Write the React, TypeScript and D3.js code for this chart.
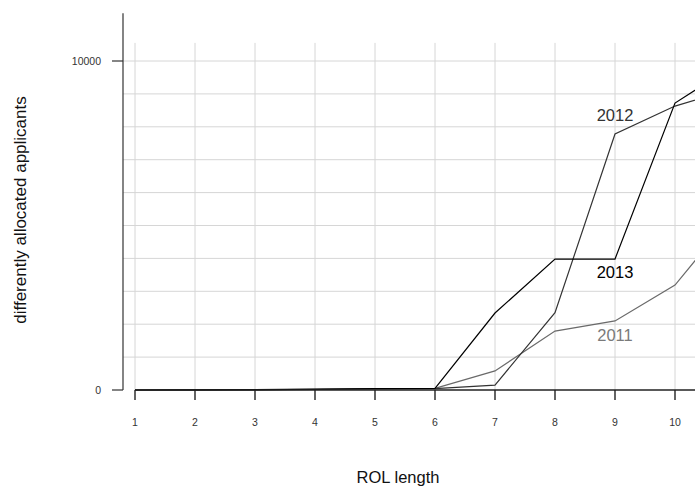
import React, { useEffect, useRef } from "react";
import * as d3 from "d3";

// ROL length on the x axis
const rolLength = [1, 2, 3, 4, 5, 6, 7, 8, 9, 10, 11];
// differently allocated applicants per year
const values2011 = [0, 3, 8, 20, 35, 50, 580, 1790, 2100, 3190, 5400];
const values2012 = [0, 2, 6, 15, 30, 40, 150, 2350, 7780, 8630, 9180];
const values2013 = [0, 3, 10, 25, 45, 50, 2340, 3980, 3980, 8720, 9900];
const seriesNames = ["2011", "2012", "2013"];
const xTicks = [1, 2, 3, 4, 5, 6, 7, 8, 9, 10];
const yTicks = [0, 10000];
const yGrid = [1000, 2000, 3000, 4000, 5000, 6000, 7000, 8000, 9000, 10000];

const width = 695;
const height = 486;
const font = "'Liberation Sans', Arial, Helvetica, sans-serif";

function Chart() {
    const ref = useRef<SVGSVGElement | null>(null);

    useEffect(() => {
        drawChart();
    }, []);

    const drawChart = () => {
        const svg = d3.select(ref.current);
        svg.selectAll("*").remove();

        const x = d3.scaleLinear().domain([1, 10]).range([135, 675]);
        const y = d3.scaleLinear().domain([0, 10000]).range([390, 61]);
        const axisX = 123;

        // grid
        const grid = svg.append("g").attr("stroke", "#d6d6d6").attr("stroke-width", 1);
        grid.selectAll("line.v")
            .data(xTicks)
            .enter()
            .append("line")
            .attr("x1", d => x(d))
            .attr("x2", d => x(d))
            .attr("y1", y(10550))
            .attr("y2", y(0));
        grid.selectAll("line.h")
            .data(yGrid)
            .enter()
            .append("line")
            .attr("x1", axisX)
            .attr("x2", width)
            .attr("y1", d => y(d))
            .attr("y2", d => y(d));

        // lines
        const series = [
            { name: seriesNames[0], values: values2011, color: "#6a6a6a", label: "#7a7a7a" },
            { name: seriesNames[1], values: values2012, color: "#333333", label: "#333333" },
            { name: seriesNames[2], values: values2013, color: "#000000", label: "#000000" },
        ];
        const line = d3.line<number>()
            .x((_, i) => x(rolLength[i]))
            .y(d => y(d));

        svg.append("g")
            .selectAll("path")
            .data(series)
            .enter()
            .append("path")
            .attr("d", d => line(d.values))
            .attr("fill", "none")
            .attr("stroke", d => d.color)
            .attr("stroke-width", 1.2);

        // series labels near x = 9
        const labelY: Record<string, number> = { "2011": 1500, "2012": 8170, "2013": 3400 };
        svg.append("g")
            .selectAll("text")
            .data(series)
            .enter()
            .append("text")
            .text(d => d.name)
            .attr("x", x(9))
            .attr("y", d => y(labelY[d.name]))
            .attr("text-anchor", "middle")
            .attr("font-family", font)
            .attr("font-size", "16.5px")
            .attr("fill", d => d.label);

        // y axis
        const yAxis = svg.append("g").attr("stroke", "#333").attr("stroke-width", 1.2);
        yAxis.append("line")
            .attr("x1", axisX).attr("x2", axisX)
            .attr("y1", y(11450)).attr("y2", y(0));
        yAxis.selectAll("line.t")
            .data(yTicks)
            .enter()
            .append("line")
            .attr("x1", axisX - 11).attr("x2", axisX)
            .attr("y1", d => y(d)).attr("y2", d => y(d));
        svg.append("g")
            .selectAll("text")
            .data(yTicks)
            .enter()
            .append("text")
            .text(d => String(d))
            .attr("x", 101)
            .attr("y", d => y(d))
            .attr("dy", "0.35em")
            .attr("text-anchor", "end")
            .attr("font-family", font)
            .attr("font-size", "10.5px")
            .attr("fill", "#333");

        // x axis
        const xAxis = svg.append("g").attr("stroke", "#222").attr("stroke-width", 1.4);
        xAxis.append("line")
            .attr("x1", x(1)).attr("x2", width)
            .attr("y1", y(0)).attr("y2", y(0));
        xAxis.selectAll("line.t")
            .data(xTicks)
            .enter()
            .append("line")
            .attr("x1", d => x(d)).attr("x2", d => x(d))
            .attr("y1", y(0)).attr("y2", y(0) + 10);
        svg.append("g")
            .selectAll("text")
            .data(xTicks)
            .enter()
            .append("text")
            .text(d => String(d))
            .attr("x", d => x(d))
            .attr("y", 426)
            .attr("text-anchor", "middle")
            .attr("font-family", font)
            .attr("font-size", "10.5px")
            .attr("fill", "#333");

        // axis titles
        svg.append("text")
            .text("ROL length")
            .attr("x", 398)
            .attr("y", 483)
            .attr("text-anchor", "middle")
            .attr("font-family", font)
            .attr("font-size", "16.5px")
            .attr("fill", "#111");
        svg.append("text")
            .text("differently allocated applicants")
            .attr("transform", "translate(26,210) rotate(-90)")
            .attr("text-anchor", "middle")
            .attr("font-family", font)
            .attr("font-size", "17px")
            .attr("fill", "#111");
    };

    return (
        <svg
            ref={ref}
            width={width}
            height={height}
            style={{ position: "absolute", left: 0, top: 0, background: "#fff" }}
        />
    );
}

export default function App() {
    return <Chart />;
}
